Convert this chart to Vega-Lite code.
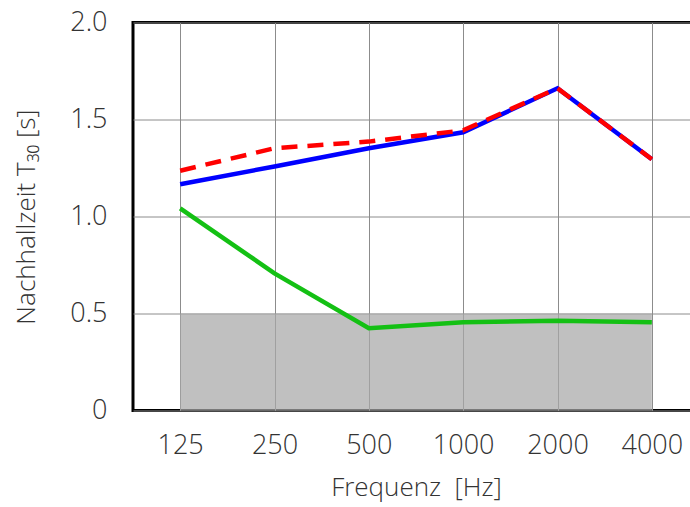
{
  "$schema": "https://vega.github.io/schema/vega-lite/v6.json",
  "width": 566,
  "height": 388,
  "autosize": "none",
  "padding": {"left": 133, "top": 22.5, "right": 0, "bottom": 96.5},
  "background": "#ffffff",
  "config": {
    "view": {"stroke": "#000000", "strokeWidth": 3},
    "font": "Open Sans"
  },
  "data": {
    "values": [
      {"f": "125", "s": "limit", "v": 0.5},
      {"f": "250", "s": "limit", "v": 0.5},
      {"f": "500", "s": "limit", "v": 0.5},
      {"f": "1000", "s": "limit", "v": 0.5},
      {"f": "2000", "s": "limit", "v": 0.5},
      {"f": "4000", "s": "limit", "v": 0.5},
      {"f": "125", "s": "blue", "v": 1.166},
      {"f": "250", "s": "blue", "v": 1.258},
      {"f": "500", "s": "blue", "v": 1.352},
      {"f": "1000", "s": "blue", "v": 1.434},
      {"f": "2000", "s": "blue", "v": 1.661},
      {"f": "4000", "s": "blue", "v": 1.295},
      {"f": "125", "s": "red", "v": 1.236},
      {"f": "250", "s": "red", "v": 1.352},
      {"f": "500", "s": "red", "v": 1.386},
      {"f": "1000", "s": "red", "v": 1.444},
      {"f": "2000", "s": "red", "v": 1.661},
      {"f": "4000", "s": "red", "v": 1.295},
      {"f": "125", "s": "green", "v": 1.042},
      {"f": "250", "s": "green", "v": 0.707},
      {"f": "500", "s": "green", "v": 0.424},
      {"f": "1000", "s": "green", "v": 0.455},
      {"f": "2000", "s": "green", "v": 0.463},
      {"f": "4000", "s": "green", "v": 0.455}
    ]
  },
  "encoding": {
    "x": {
      "field": "f",
      "type": "ordinal",
      "sort": ["125", "250", "500", "1000", "2000", "4000"],
      "scale": {"type": "point", "padding": 0.5},
      "axis": {
        "grid": true,
        "gridColor": "#8c8c8c",
        "gridWidth": 1,
        "ticks": false,
        "domain": false,
        "labelAngle": 0,
        "labelFontSize": 27,
        "labelFontWeight": 300,
        "labelColor": "#333333",
        "labelPadding": 22,
        "title": "Frequenz\u00a0\u00a0[Hz]",
        "titleFontSize": 26,
        "titleFontWeight": 300,
        "titleColor": "#333333",
        "titlePadding": 16
      }
    },
    "y": {
      "field": "v",
      "type": "quantitative",
      "scale": {"domain": [0, 2], "nice": false, "zero": true},
      "axis": {
        "values": [0, 0.5, 1, 1.5, 2],
        "labelExpr": "datum.value == 0 ? '0' : format(datum.value, '.1f')",
        "grid": true,
        "gridColor": "#8c8c8c",
        "gridWidth": 1,
        "ticks": false,
        "domain": false,
        "labelFontSize": 27,
        "labelFontWeight": 300,
        "labelColor": "#333333",
        "labelPadding": 26,
        "title": "Nachhallzeit T₃₀ [s]",
        "titleFontSize": 26,
        "titleFontWeight": 300,
        "titleColor": "#333333",
        "titlePadding": 30
      }
    }
  },
  "layer": [
    {
      "transform": [{"filter": "datum.s == 'limit'"}],
      "mark": {"type": "area", "color": "#a8a8a8", "opacity": 0.72}
    },
    {
      "transform": [{"filter": "datum.s == 'green'"}],
      "mark": {"type": "line", "color": "#14c014", "strokeWidth": 4.5}
    },
    {
      "transform": [{"filter": "datum.s == 'blue'"}],
      "mark": {"type": "line", "color": "#0000ff", "strokeWidth": 4.5}
    },
    {
      "transform": [{"filter": "datum.s == 'red'"}],
      "mark": {"type": "line", "color": "#ff0000", "strokeWidth": 4.5, "strokeDash": [16, 10]}
    }
  ]
}
